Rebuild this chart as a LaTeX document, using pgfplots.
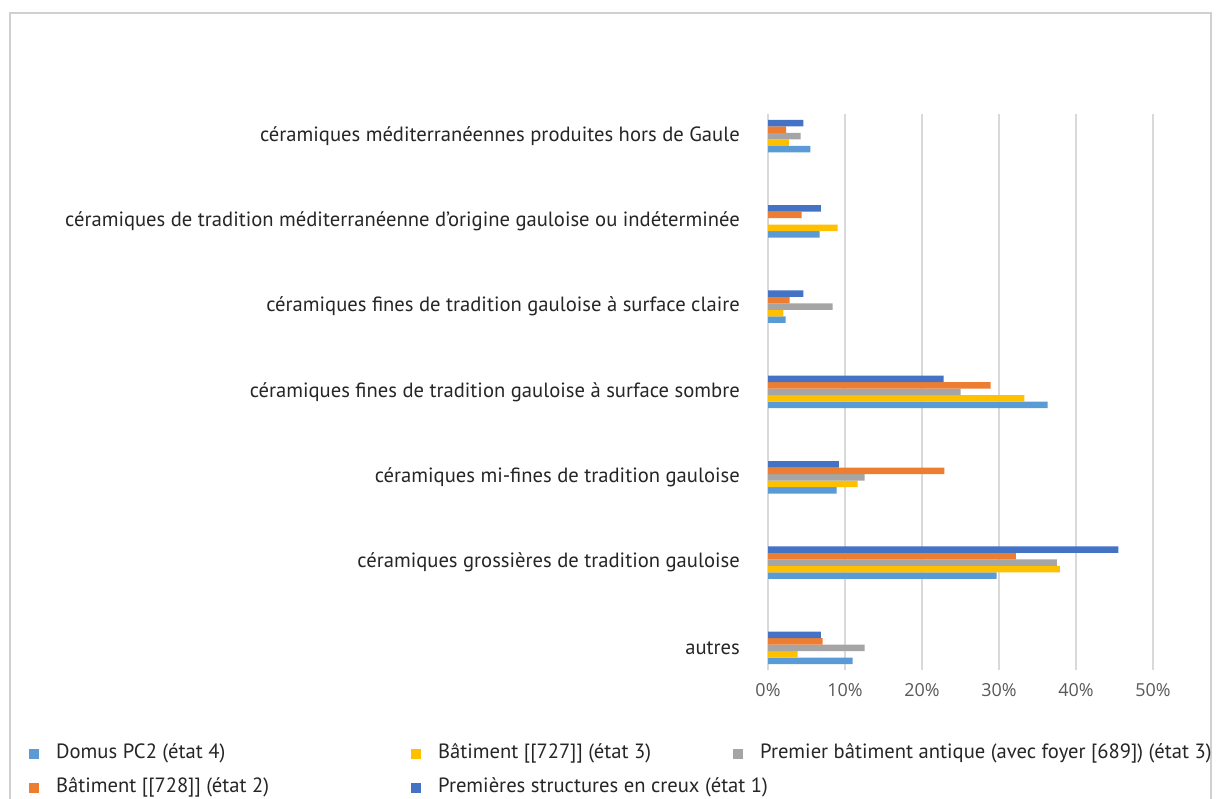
\documentclass[border=0pt]{standalone}
\usepackage{pgfplots}
\pgfplotsset{compat=1.18}
\usepackage{pgfplotstable}
\usepackage{fontspec}
\setmainfont{PT Sans}
\newfontfamily\tickfont{Open Sans}
\definecolor{cLB}{HTML}{5B9BD5}
\definecolor{cYE}{HTML}{FFC000}
\definecolor{cGR}{HTML}{A5A5A5}
\definecolor{cOR}{HTML}{ED7D31}
\definecolor{cDB}{HTML}{4472C4}
\definecolor{txtc}{HTML}{262626}
\definecolor{tickc}{HTML}{595959}
\definecolor{gridc}{HTML}{D9D9D9}
\definecolor{framec}{HTML}{D0D0D0}

% y: 0 = autres ... 6 = hors de Gaule ; x in percent
\pgfplotstableread{
y x
0 11.0
1 29.7
2 8.9
3 36.3
4 2.3
5 6.7
6 5.5
}\domus
\pgfplotstableread{
y x
0 3.85
1 37.9
2 11.65
3 33.3
4 2.0
5 9.05
6 2.7
}\batA
\pgfplotstableread{
y x
0 12.55
1 37.5
2 12.55
3 25.0
4 8.4
5 0
6 4.25
}\premier
\pgfplotstableread{
y x
0 7.1
1 32.2
2 22.9
3 28.9
4 2.8
5 4.35
6 2.35
}\batB
\pgfplotstableread{
y x
0 6.85
1 45.5
2 9.2
3 22.8
4 4.6
5 6.85
6 4.6
}\structures

\begin{document}
\begin{tikzpicture}[x=1bp,y=1bp]
\useasboundingbox (0,0) rectangle (1218,799);
\fill[white] (0,0) rectangle (1218,799);
\draw[framec, line width=1.2bp] (10,-10) -- (10,786) -- (1211,786) -- (1211,-10);
\begin{axis}[
  at={(768bp,129bp)}, anchor=south west,
  scale only axis, width=385bp, height=556bp,
  xbar, bar width=6.5bp,
  xmin=0, xmax=50, ymin=-0.258, ymax=6.258,
  xtick={0,10,20,30,40,50},
  xticklabels={0\%,10\%,20\%,30\%,40\%,50\%},
  xticklabel style={font=\tickfont\fontsize{18}{21}\selectfont, text=tickc, anchor=center, inner sep=0pt, yshift=-20bp},
  ytick={0,1,2,3,4,5,6},
  yticklabels={autres,
    céramiques grossières de tradition gauloise,
    céramiques mi-fines de tradition gauloise,
    céramiques fines de tradition gauloise à surface sombre,
    céramiques fines de tradition gauloise à surface claire,
    céramiques de tradition méditerranéenne d’origine gauloise ou indéterminée,
    céramiques méditerranéennes produites hors de Gaule},
  yticklabel style={font=\fontsize{20.7}{24}\selectfont, text=txtc, anchor=east, inner sep=0pt, xshift=-28bp},
  major tick length=0pt,
  tick style={draw=none},
  axis line style={draw=none},
  xmajorgrids, ymajorgrids=false,
  major grid style={gridc, line width=1.6bp},
  legend columns=3,
  legend cell align=left,
  legend image code/.code={\fill[#1] (0bp,-5bp) rectangle (10bp,5bp); \path[draw=none,fill=none] (0bp,0bp) rectangle (27bp,0.1bp);},
  legend style={at={(-1.9195,-0.1367)}, anchor=north west, draw=none, fill=none,
    inner sep=0pt, column sep=0pt, row sep=18bp,
    font=\fontsize{20.7}{24}\selectfont, text=txtc,
    nodes={inner sep=0pt, text height=12bp, text depth=4bp}},
]
\addplot[fill=cLB, draw=none, bar shift=-13bp] table[x=x,y=y] {\domus};
\addlegendentry{\makebox[355bp][l]{Domus PC2 (état 4)}}
\addplot[fill=cYE, draw=none, bar shift=-6.5bp] table[x=x,y=y] {\batA};
\addlegendentry{\makebox[295bp][l]{Bâtiment [[727]] (état 3)}}
\addplot[fill=cGR, draw=none, bar shift=0bp] table[x=x,y=y] {\premier};
\addlegendentry{Premier bâtiment antique (avec foyer [689]) (état 3)}
\addplot[fill=cOR, draw=none, bar shift=6.5bp] table[x=x,y=y] {\batB};
\addlegendentry{\makebox[355bp][l]{Bâtiment [[728]] (état 2)}}
\addplot[fill=cDB, draw=none, bar shift=13bp] table[x=x,y=y] {\structures};
\addlegendentry{\makebox[295bp][l]{Premières structures en creux (état 1)}}
\end{axis}
\end{tikzpicture}
\end{document}
